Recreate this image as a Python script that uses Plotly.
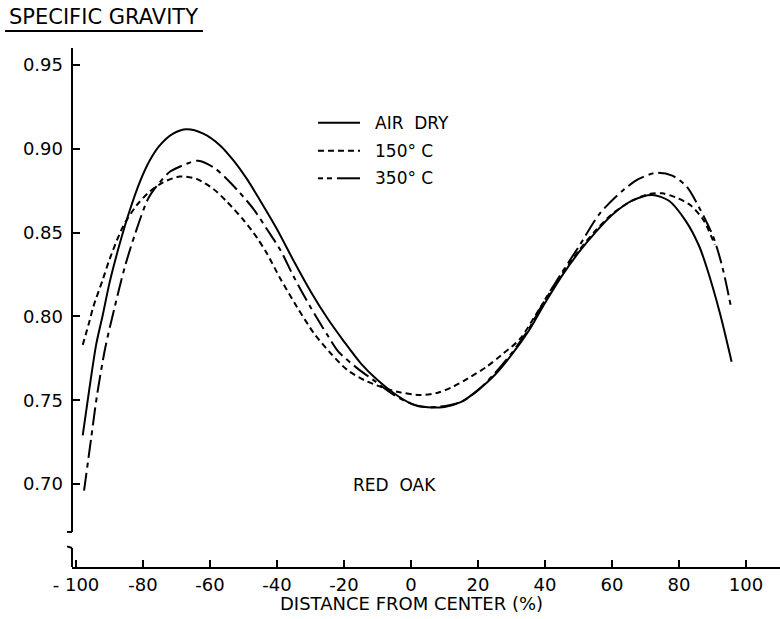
import plotly.graph_objects as go

# ---- data ----
air_x = [-98, -96, -94, -92, -90, -87, -84, -81, -78, -75, -71, -67, -62, -57, -53, -49, -45, -40,
         -35, -30, -25, -20, -15, -10, -5, 0, 5, 10, 15, 20, 25, 30, 35, 40, 45, 50, 55, 60, 66, 72,
         77, 82, 86, 88.3, 92.2, 95.7]
air_y = [0.729, 0.757, 0.783, 0.801, 0.820, 0.843, 0.863, 0.880, 0.893, 0.902, 0.909, 0.9116, 0.909,
         0.902, 0.893, 0.882, 0.869, 0.852, 0.833, 0.815, 0.799, 0.785, 0.772, 0.762, 0.754, 0.748,
         0.7458, 0.746, 0.749, 0.756, 0.765, 0.777, 0.791, 0.808, 0.824, 0.838, 0.850, 0.8605, 0.869,
         0.8724, 0.869, 0.857, 0.842, 0.829, 0.802, 0.773]

c150_x = [-98, -96, -94.8, -92, -90, -86, -82, -78, -74, -69, -64, -59, -55, -50, -46, -43, -39, -34,
          -29, -24, -19, -14, -9, -4, 2.7, 8, 12.6, 17, 22.6, 27, 32.5, 38.5, 45, 50, 55, 60, 66, 71,
          75, 79, 83.3, 87.3, 90.7]
c150_y = [0.783, 0.797, 0.806, 0.822, 0.834, 0.8535, 0.866, 0.8745, 0.880, 0.8834, 0.882, 0.876,
          0.8685, 0.8575, 0.847, 0.8375, 0.8225, 0.8055, 0.790, 0.778, 0.768, 0.762, 0.758, 0.755,
          0.7531, 0.7545, 0.7581, 0.763, 0.770, 0.777, 0.7865, 0.805, 0.825, 0.839, 0.851, 0.861,
          0.869, 0.873, 0.8734, 0.871, 0.8665, 0.8575, 0.8426]

c350_x = [-97.6, -95.5, -93.8, -91.3, -88.4, -85.5, -82.4, -78.4, -75, -71.9, -67, -63.5, -59, -55,
          -51, -47, -43, -39, -35, -30, -25, -21.7, -16, -11.3, -5, 0, 2.7, 8, 15, 20, 25, 30,
          35, 40, 45, 50.4, 56.4, 63.4, 68, 73.3, 78, 82.3, 86, 90.2, 93, 95.7]
c350_y = [0.696, 0.727, 0.752, 0.781, 0.806, 0.829, 0.849, 0.8705, 0.880, 0.8864, 0.891, 0.8929,
          0.889, 0.882, 0.8735, 0.864, 0.852, 0.8396, 0.8236, 0.8055, 0.789, 0.779, 0.769, 0.7621,
          0.753, 0.748, 0.7462, 0.746, 0.749, 0.756, 0.766, 0.778, 0.792, 0.810, 0.826, 0.8426,
          0.8615, 0.8754, 0.882, 0.8857, 0.884, 0.8774, 0.865, 0.8476, 0.829, 0.8038]

x_ticks = [-100, -80, -60, -40, -20, 0, 20, 40, 60, 80, 100]
x_tick_text = ["- 100", "-80", "-60", "-40", "-20", "0", "20", "40", "60", "80", "100"]
y_ticks = [0.70, 0.75, 0.80, 0.85, 0.90, 0.95]
y_tick_text = ["0.70", "0.75", "0.80", "0.85", "0.90", "0.95"]

series_names = ["AIR  DRY", "150° C", "350° C"]

FONT = "DejaVu Sans"
X_RANGE = [-101.2, 110.15]
Y_RANGE = [0.6505, 0.9601]

fig = go.Figure()
line_common = dict(color="black", width=2, shape="spline", smoothing=0.8)
fig.add_trace(go.Scatter(x=air_x, y=air_y, mode="lines", name=series_names[0],
                         line=dict(**line_common, dash="solid"), showlegend=False))
fig.add_trace(go.Scatter(x=c150_x, y=c150_y, mode="lines", name=series_names[1],
                         line=dict(**line_common, dash="6px,4px"), showlegend=False))
fig.add_trace(go.Scatter(x=c350_x, y=c350_y, mode="lines", name=series_names[2],
                         line=dict(**line_common, dash="18px,5px,5px,5px"), showlegend=False))

shapes = []
# y axis with break
ax = dict(type="line", xref="paper", yref="y", line=dict(color="black", width=2))
shapes.append(dict(ax, x0=0, x1=0, y0=0.6714, y1=Y_RANGE[1]))
shapes.append(dict(ax, x0=-0.007, x1=0, y0=0.6714, y1=0.6714))
shapes.append(dict(ax, x0=0, x1=0, y0=Y_RANGE[0], y1=0.6618))
shapes.append(dict(ax, x0=-0.007, x1=0, y0=0.6628, y1=0.6618))

def px2paper_x(px):
    return (px - 72) / 708.0
def px2paper_y(py):
    return (567 - py) / 519.0

# legend samples (manual)
lg = dict(type="line", xref="paper", yref="paper", line=dict(color="black", width=2))
legend_rows = [122.7, 150.7, 178.3]
shapes.append(dict(lg, x0=px2paper_x(318), x1=px2paper_x(360),
                   y0=px2paper_y(legend_rows[0]), y1=px2paper_y(legend_rows[0])))
shapes.append(dict(type="line", xref="paper", yref="paper",
                   line=dict(color="black", width=2, dash="6px,4px"),
                   x0=px2paper_x(318), x1=px2paper_x(360),
                   y0=px2paper_y(legend_rows[1]), y1=px2paper_y(legend_rows[1])))
for a, b in [(318, 323), (327, 332), (337, 360)]:
    shapes.append(dict(lg, x0=px2paper_x(a), x1=px2paper_x(b),
                       y0=px2paper_y(legend_rows[2]), y1=px2paper_y(legend_rows[2])))

# title underline
shapes.append(dict(type="line", xref="paper", yref="paper", x0=px2paper_x(5), x1=px2paper_x(203),
                   y0=px2paper_y(31), y1=px2paper_y(31), line=dict(color="black", width=1.8)))

annotations = []
for name, row in zip(series_names, legend_rows):
    annotations.append(dict(text=name, xref="paper", yref="paper", x=px2paper_x(373),
                            y=px2paper_y(row), xanchor="left", yanchor="middle", showarrow=False,
                            font=dict(family=FONT, size=17, color="black")))
annotations.append(dict(text="SPECIFIC GRAVITY", xref="paper", yref="paper", x=px2paper_x(7),
                        y=px2paper_y(17), xanchor="left", yanchor="middle", showarrow=False,
                        font=dict(family=FONT, size=21, color="black")))
annotations.append(dict(text="RED  OAK", xref="x", yref="y", x=-4.8, y=0.6994,
                        xanchor="center", yanchor="middle", showarrow=False,
                        font=dict(family=FONT, size=17, color="black")))
annotations.append(dict(text="DISTANCE FROM CENTER (%)", xref="x", yref="paper", x=0,
                        y=px2paper_y(603), xanchor="center", yanchor="middle", showarrow=False,
                        font=dict(family=FONT, size=18, color="black")))

fig.update_layout(
    width=780, height=619,
    margin=dict(l=72, r=0, t=48, b=52),
    paper_bgcolor="white", plot_bgcolor="white",
    font=dict(family=FONT, size=18, color="black"),
    shapes=shapes, annotations=annotations,
    xaxis=dict(range=X_RANGE, showgrid=False, zeroline=False, showline=True, linecolor="black",
               linewidth=2, ticks="inside", ticklen=7, tickwidth=1.5, tickcolor="black",
               tickvals=x_ticks, ticktext=x_tick_text, tickfont=dict(family=FONT, size=18),
               automargin=False),
    yaxis=dict(range=Y_RANGE, showgrid=False, zeroline=False, showline=False,
               ticks="inside", ticklen=8, tickwidth=1.5, tickcolor="black",
               tickvals=y_ticks, ticktext=y_tick_text, tickfont=dict(family=FONT, size=18),
               ticklabelstandoff=8, automargin=False),
)

fig.write_html("out.html", config={"displayModeBar": False},
               post_script="document.body.style.margin='0';document.body.style.overflow='hidden';")
